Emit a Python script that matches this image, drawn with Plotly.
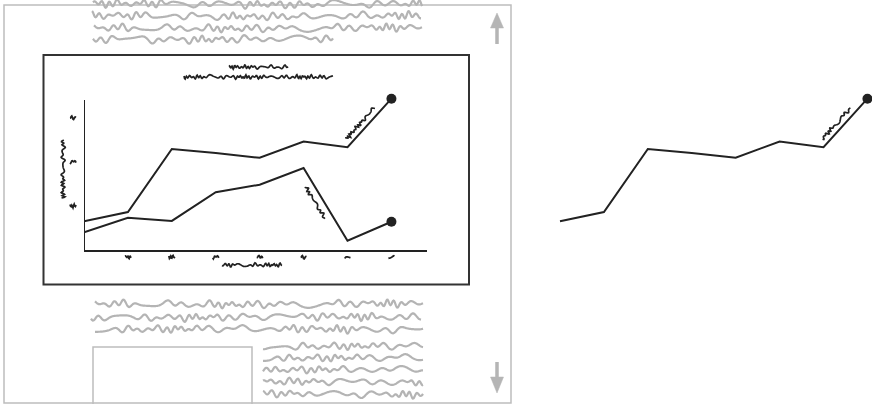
import math
import plotly.graph_objects as go

# ---- data ----
x_index = [0, 1, 2, 3, 4, 5, 6, 7]
series_upper = [0.65, 0.86, 2.29, 2.20, 2.09, 2.46, 2.33, 3.43]
series_lower = [0.40, 0.73, 0.66, 1.31, 1.48, 1.86, 0.21, 0.64]
x_tick_vals = [1, 2, 3, 4, 5, 6, 7]
y_tick_vals = [1, 2, 3]

W, H = 872, 404
DARK = "#222222"
GRAY = "#b4b4b4"

# geometry (pixels)
IN_X0, IN_X1 = 84, 427
Y_BOT, Y_AXTOP = 250, 100
AX_YMAX = 3.4
K = (Y_BOT - Y_AXTOP) / AX_YMAX
YR = [0, 3.7]
Y_TOP = Y_BOT - YR[1] * K
IN_XR = [0, 7.81]
UNIT_X = (IN_X1 - IN_X0) / (IN_XR[1] - IN_XR[0])
R_X0, R_X1 = 556, 872
R_XR = [(R_X0 - 560) / UNIT_X, (R_X1 - 560) / UNIT_X]


def px(x):
    return x / W


def py(y):
    return 1 - y / H


def in_pt(xv, yv):
    return (IN_X0 + (xv - IN_XR[0]) * UNIT_X, Y_BOT - (yv - YR[0]) * K)


def r_pt(xv, yv):
    return (R_X0 + (xv - R_XR[0]) * UNIT_X, Y_BOT - (yv - YR[0]) * K)


def path_str(pts):
    return "M " + " L ".join(f"{px(a):.5f},{py(b):.5f}" for a, b in pts)


def squiggle(x0, y0, x1, y1, amp, period, seed, style="hand", step=0.6):
    L = math.hypot(x1 - x0, y1 - y0)
    ux, uy = (x1 - x0) / L, (y1 - y0) / L
    nx, ny = uy, -ux
    n = max(2, int(L / step))
    pts = []
    phase = seed
    ds = L / n
    for k in range(n + 1):
        s = ds * k
        f = (1 + 0.55 * math.sin(0.045 * s * 11 / period + seed)
             + 0.3 * math.sin(0.13 * s * 11 / period + 2.1 * seed))
        phase += 2 * math.pi * ds / period * max(0.25, f)
        if style == "hand":
            env = 0.35 + 0.65 * math.sin(0.07 * s + 1.3 * seed) ** 2
            off = amp * (0.75 * math.sin(phase) * env
                         + 0.35 * math.sin(0.37 * phase + 0.5 * seed)
                         + 0.15 * math.sin(0.021 * s + seed))
        else:
            env = 0.45 + 0.55 * math.sin(0.25 * s + 1.3 * seed) ** 2
            off = amp * (0.75 * math.sin(phase) * env + 0.35 * math.sin(0.41 * phase + 1.9 * seed))
        pts.append((x0 + ux * s + nx * off, y0 + uy * s + ny * off))
    return path_str(pts)


shapes = []


def add_sq(x0, y0, x1, y1, amp, period, seed, color, width, style="hand"):
    shapes.append(dict(type="path", xref="paper", yref="paper",
                       path=squiggle(x0, y0, x1, y1, amp, period, seed, style),
                       line=dict(color=color, width=width)))


def add_rect(x0, y0, x1, y1, color, width, fill="rgba(0,0,0,0)"):
    shapes.append(dict(type="rect", xref="paper", yref="paper",
                       x0=px(x0), x1=px(x1), y0=py(y1), y1=py(y0),
                       line=dict(color=color, width=width), fillcolor=fill))


# page frame
add_rect(4, 5, 511, 403, "#bdbdbd", 1.5)

# gray "text" rows – top block
for i, (y, xa, xb) in enumerate([(4, 93, 422), (16, 92, 421), (28, 94, 422), (39, 93, 333)]):
    add_sq(xa, y, xb, y, 4.0, 12, 0.9 * i + 0.3, GRAY, 2.2)
# bottom block
for i, (y, xa, xb) in enumerate([(304, 95, 423), (317, 91, 421), (329, 95, 423)]):
    add_sq(xa, y, xb, y, 4.0, 12, 1.3 * i + 2.1, GRAY, 2.2)
for i, y in enumerate([346, 358, 370, 382, 394]):
    add_sq(263, y, 423, y, 3.8, 12, 0.9 * i + 4.2, GRAY, 2.2)
# image placeholder
add_rect(93, 347, 252, 412, "#bdbdbd", 1.5)

# scroll arrows
for (ys, ye, hb, tip) in [(44, 27, 28, 13), (362, 378, 377, 393)]:
    shapes.append(dict(type="line", xref="paper", yref="paper",
                       x0=px(497), x1=px(497), y0=py(ys), y1=py(ye),
                       line=dict(color="#b5b5b5", width=3.5)))
    shapes.append(dict(type="path", xref="paper", yref="paper",
                       path=f"M {px(490.5)},{py(hb)} L {px(503.5)},{py(hb)} L {px(497)},{py(tip)} Z",
                       fillcolor="#b5b5b5", line=dict(color="#b5b5b5", width=0.5)))

# inset frame
add_rect(43.5, 55, 469, 284.5, "#333333", 2)

# y axis line of the inset (stops at top of value scale)
shapes.append(dict(type="line", xref="x", yref="y", x0=0, x1=0, y0=0, y1=AX_YMAX,
                   line=dict(color=DARK, width=2)))

# inset titles
add_sq(229, 67, 288, 67, 2.0, 4.6, 0.4, DARK, 1.7, style="jag")
add_sq(184, 77, 333, 77, 2.1, 4.6, 1.1, DARK, 1.7, style="jag")
# axis titles
add_sq(222, 265, 282, 265, 2.0, 4.6, 2.2, DARK, 1.7, style="jag")
add_sq(63, 198, 63, 140, 2.2, 4.6, 0.9, DARK, 1.7, style="jag")

# tick label squiggles
for j, xv in enumerate(x_tick_vals):
    cx, _ = in_pt(xv, 0)
    add_sq(cx - 3, 257, cx + 3, 257, 1.9, 3.5, j * 0.8, DARK, 1.8, style="jag")
for j, yv in enumerate(y_tick_vals):
    _, cy = in_pt(0, yv)
    add_sq(70, cy, 76, cy, 1.9, 3.5, j * 1.3 + 0.5, DARK, 1.8, style="jag")


# line-label squiggles parallel to segments
def seg_label(mapper, vals, seg, t0, t1, off, seed):
    ax, ay = mapper(x_index[seg], vals[seg])
    bx, by = mapper(x_index[seg + 1], vals[seg + 1])
    L = math.hypot(bx - ax, by - ay)
    ux, uy = (bx - ax) / L, (by - ay) / L
    nx, ny = uy, -ux
    p0 = (ax + ux * L * t0 + nx * off, ay + uy * L * t0 + ny * off)
    p1 = (ax + ux * L * t1 + nx * off, ay + uy * L * t1 + ny * off)
    add_sq(p0[0], p0[1], p1[0], p1[1], 2.0, 4.4, seed, DARK, 1.7, style="jag")


seg_label(in_pt, series_upper, 6, 0.08, 0.72, 6.5, 0.3)
seg_label(r_pt, series_upper, 6, 0.08, 0.72, 6.5, 1.7)
seg_label(in_pt, series_lower, 5, 0.2, 0.64, -8, 2.5)

fig = go.Figure()

for vals in (series_upper, series_lower):
    fig.add_trace(go.Scatter(x=x_index, y=vals, mode="lines", xaxis="x", yaxis="y",
                             line=dict(color=DARK, width=2), cliponaxis=False,
                             hoverinfo="skip"))
    fig.add_trace(go.Scatter(x=[x_index[-1]], y=[vals[-1]], mode="markers", xaxis="x", yaxis="y",
                             marker=dict(color=DARK, size=10), cliponaxis=False,
                             hoverinfo="skip"))

fig.add_trace(go.Scatter(x=x_index, y=series_upper, mode="lines", xaxis="x2", yaxis="y2",
                         line=dict(color=DARK, width=2), cliponaxis=False, hoverinfo="skip"))
fig.add_trace(go.Scatter(x=[x_index[-1]], y=[series_upper[-1]], mode="markers", xaxis="x2", yaxis="y2",
                         marker=dict(color=DARK, size=10), cliponaxis=False, hoverinfo="skip"))

ydom = [py(Y_BOT), py(Y_TOP)]
fig.update_layout(
    width=W, height=H,
    margin=dict(l=0, r=0, t=0, b=0),
    paper_bgcolor="white", plot_bgcolor="rgba(0,0,0,0)",
    showlegend=False,
    hovermode=False,
    xaxis=dict(domain=[px(IN_X0), px(IN_X1)], range=IN_XR, showgrid=False, zeroline=False,
               showline=True, linecolor=DARK, linewidth=2, showticklabels=False, ticks="",
               anchor="y", fixedrange=True),
    yaxis=dict(domain=ydom, range=YR, showgrid=False, zeroline=False,
               showline=False, showticklabels=False, ticks="",
               anchor="x", fixedrange=True),
    xaxis2=dict(domain=[px(R_X0), px(R_X1)], range=R_XR, visible=False, anchor="y2", fixedrange=True),
    yaxis2=dict(domain=ydom, range=YR, visible=False, anchor="x2", fixedrange=True),
    shapes=shapes,
)

fig.write_html("out.html", config={"displayModeBar": False, "staticPlot": True},
               post_script="document.body.style.margin='0';document.body.style.overflow='hidden';")
